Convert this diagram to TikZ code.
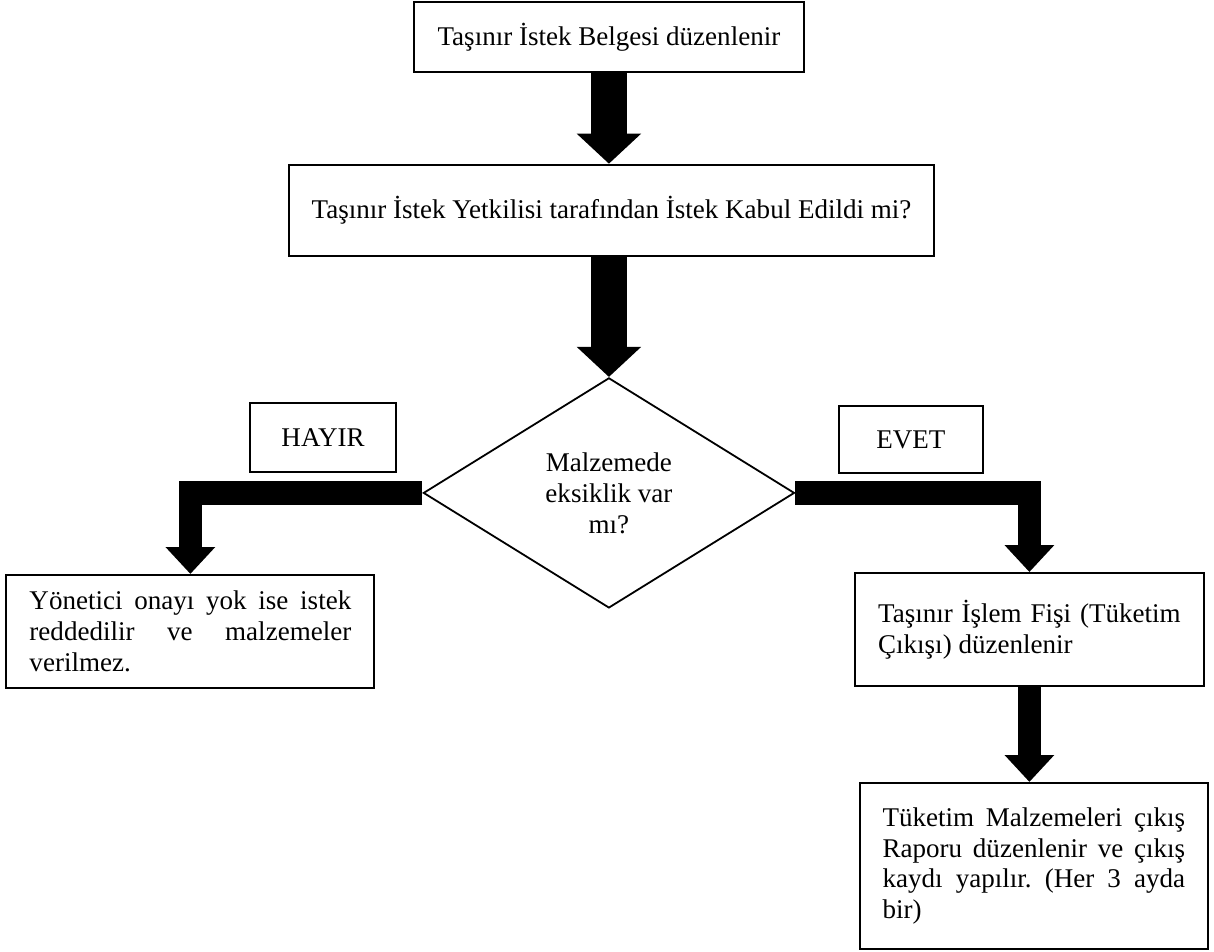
\documentclass[tikz,border=0pt]{standalone}
\usepackage{fontspec}
\setmainfont{Liberation Serif}
\usepackage{tikz}
\usetikzlibrary{shapes.geometric, arrows.meta, positioning}
\frenchspacing

\begin{document}
\begin{tikzpicture}[
    box/.style={rectangle, draw=black, line width=0.9pt, fill=white, text centered, font=\fontsize{12}{13.6}\selectfont, inner sep=0pt},
    jbox/.style={box, align=justify, inner xsep=0.36cm},
    decision/.style={diamond, draw=black, line width=0.8pt, align=center, font=\fontsize{12}{13.8}\selectfont, minimum width=5.79cm, minimum height=3.59cm, inner sep=0pt},
    bigarrow/.style={line width=0.55cm, -{Triangle[width=0.98cm,length=0.47cm]}},
    elbowarrow/.style={line width=0.37cm, -{Triangle[width=0.75cm,length=0.42cm]}}
]
    \useasboundingbox (0,0) rectangle (18.94,-14.84);

    \node[box, minimum width=6.08cm, minimum height=1.09cm] (belge) at (9.5,-0.58) {Taşınır İstek Belgesi düzenlenir};
    \node[box, minimum width=10.05cm, minimum height=1.42cm] (kabul) at (9.54,-3.28) {Taşınır İstek Yetkilisi tarafından İstek Kabul Edildi mi?};
    \node[decision] (eksik) at (9.5,-7.69) {Malzemede\\eksiklik var\\mı?};
    \node[box, minimum width=2.28cm, minimum height=1.08cm] (hayir) at (5.04,-6.82) {HAYIR};
    \node[box, minimum width=2.25cm, minimum height=1.05cm] (evet) at (14.21,-6.86) {EVET};
    \node[jbox, text width=5.02cm, minimum height=1.76cm] (red) at (2.97,-9.85) {Yönetici onayı yok ise istek\linebreak reddedilir ve malzemeler\linebreak verilmez.};
    \node[jbox, text width=4.72cm, minimum height=1.76cm] (fis) at (16.06,-9.82) {Taşınır İşlem Fişi (Tüketim\linebreak Çıkışı) düzenlenir};
    \node[jbox, text width=4.72cm, minimum height=2.59cm] (rapor) at (16.13,-13.51) {Tüketim Malzemeleri çıkış\linebreak Raporu düzenlenir ve çıkış\linebreak kaydı yapılır. (Her 3 ayda\linebreak bir)};

    \draw[bigarrow] (belge.south) -- (belge.south |- kabul.north);
    \draw[bigarrow] (kabul.south -| eksik.north) -- (eksik.north);
    \draw[elbowarrow] (eksik.west) -| (red.north);
    \draw[elbowarrow] (eksik.east) -| (fis.north);
    \draw[elbowarrow] (fis.south) -- (fis.south |- rapor.north);
\end{tikzpicture}
\end{document}
